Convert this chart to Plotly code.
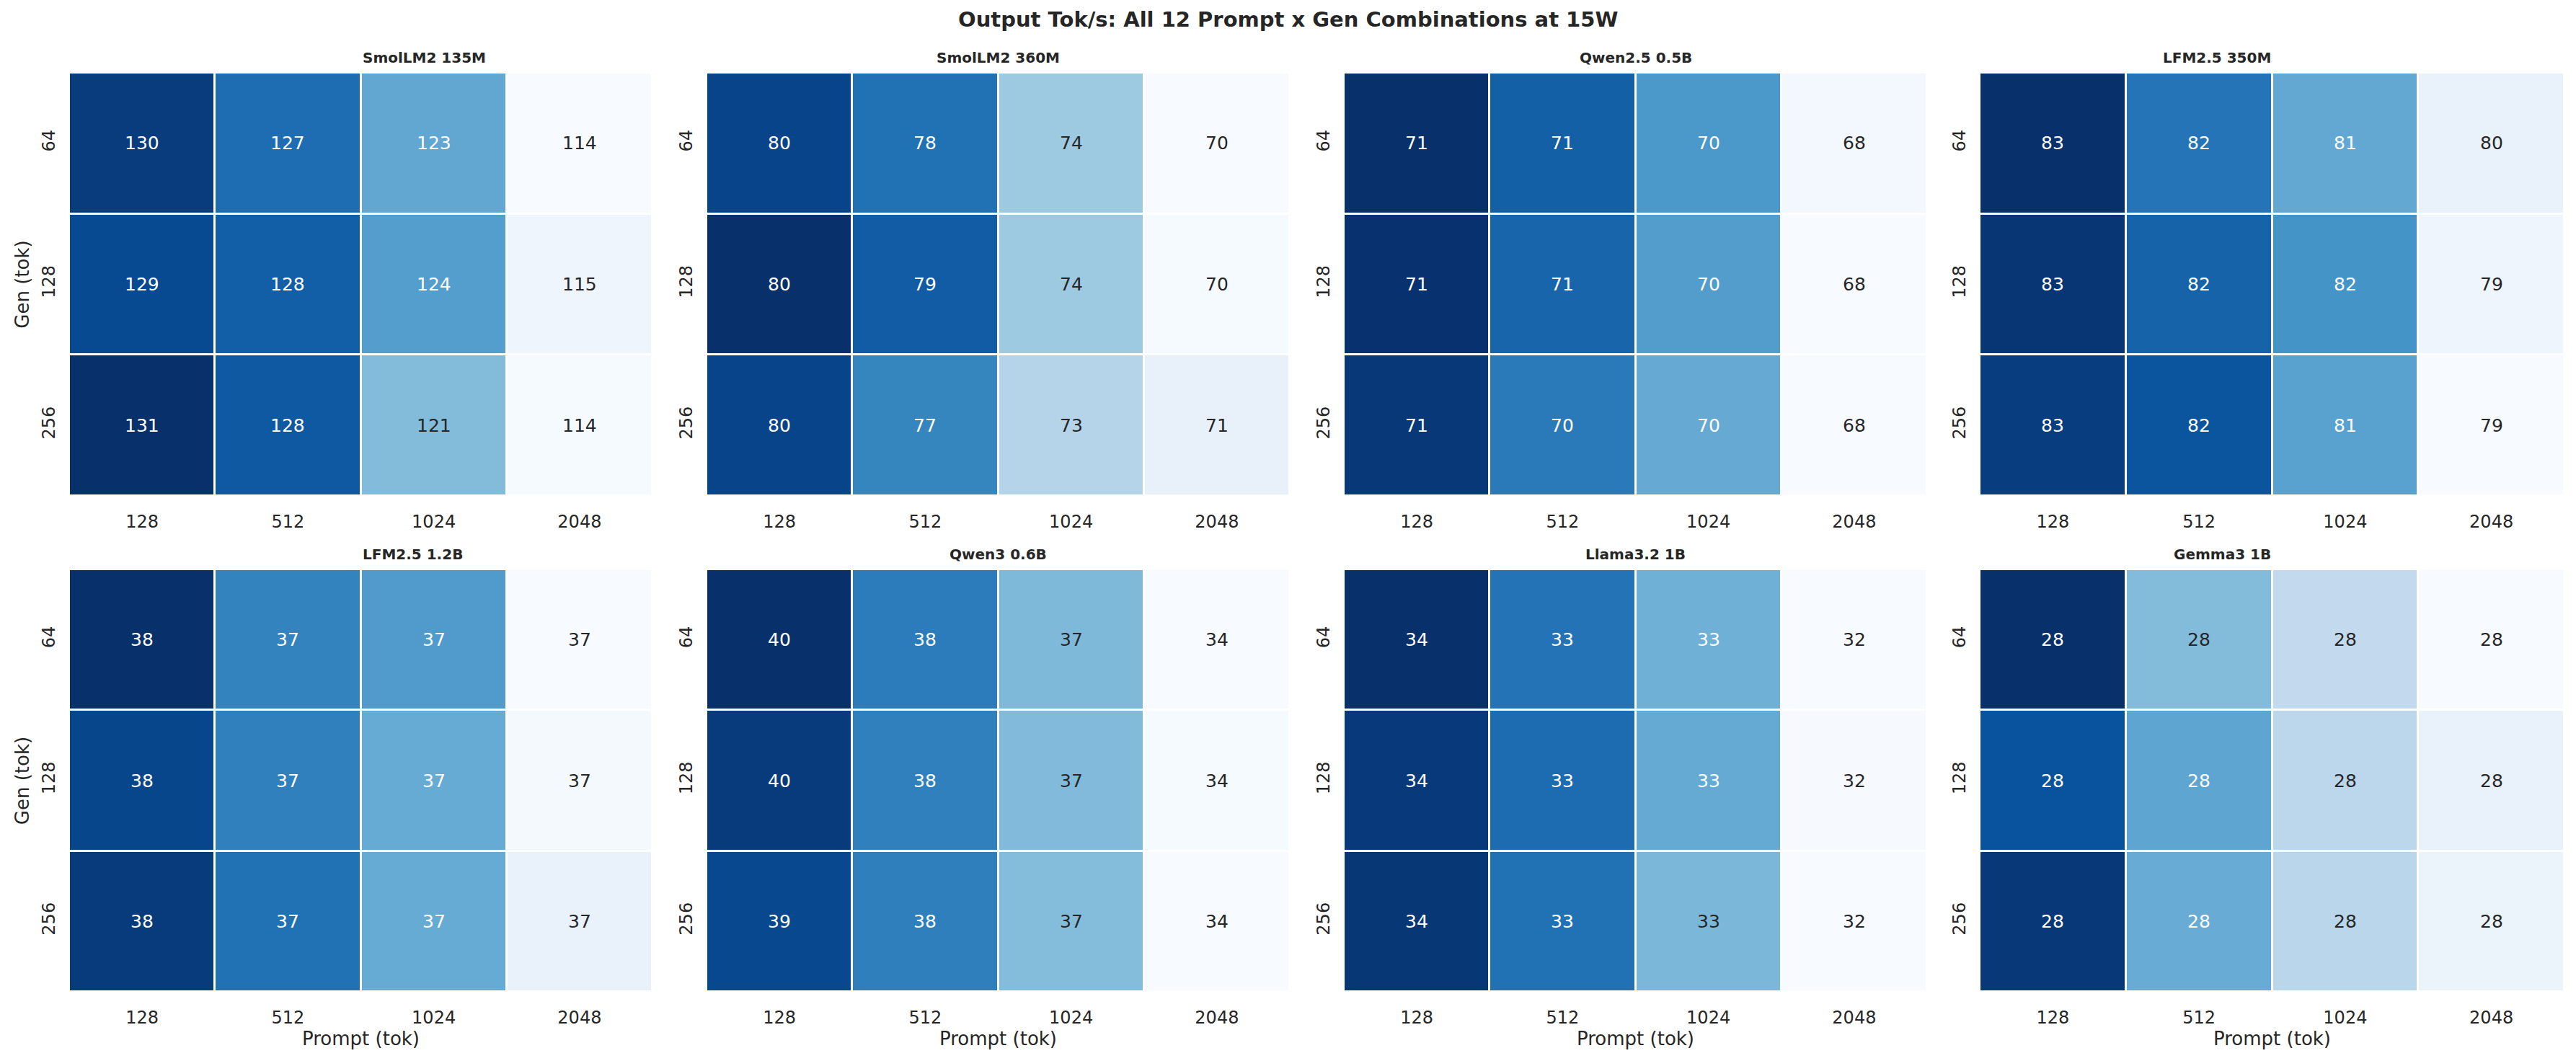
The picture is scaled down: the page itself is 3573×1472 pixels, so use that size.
import plotly.graph_objects as go

# ---------------- data ----------------
title_text = "Output Tok/s: All 12 Prompt x Gen Combinations at 15W"
prompt_labels = ["128", "512", "1024", "2048"]
gen_labels = ["64", "128", "256"]
models = ["SmolLM2 135M", "SmolLM2 360M", "Qwen2.5 0.5B", "LFM2.5 350M",
          "LFM2.5 1.2B", "Qwen3 0.6B", "Llama3.2 1B", "Gemma3 1B"]

smollm2_135m = [[130.2, 127.0, 122.9, 113.8],
                [129.3, 127.9, 123.6, 114.6],
                [131.0, 128.3, 121.4, 114.0]]
smollm2_360m = [[79.6, 77.75, 73.8, 69.8],
                [80.4, 78.6, 73.8, 69.9],
                [79.6, 76.95, 73.0, 70.6]]
qwen25_05b = [[71.28, 70.67, 69.93, 68.0],
              [71.25, 70.6, 69.86, 67.93],
              [71.18, 70.33, 69.66, 67.93]]
lfm25_350m = [[82.9, 81.96, 81.2, 79.56],
              [82.83, 82.2, 81.52, 79.47],
              [82.72, 82.4, 81.3, 79.3]]
lfm25_12b = [[37.62, 37.39, 37.32, 36.9],
             [37.56, 37.4, 37.27, 36.91],
             [37.59, 37.44, 37.27, 36.95]]
qwen3_06b = [[39.88, 38.2, 36.7, 34.1],
             [39.65, 38.1, 36.68, 34.16],
             [39.36, 38.12, 36.64, 34.1]]
llama32_1b = [[33.71, 33.32, 32.94, 32.2],
              [33.65, 33.36, 32.985, 32.21],
              [33.67, 33.33, 32.895, 32.2]]
gemma3_1b = [[28.3, 28.076, 28.004, 27.9],
             [28.248, 28.116, 28.012, 27.928],
             [28.288, 28.104, 28.016, 27.924]]

all_values = [smollm2_135m, smollm2_360m, qwen25_05b, lfm25_350m,
              lfm25_12b, qwen3_06b, llama32_1b, gemma3_1b]

# ---------------- style ----------------
W, H = 3573, 1472
FONT = "DejaVu Sans"
DARK = "#262626"
blues = ["#f7fbff", "#deebf7", "#c6dbef", "#9ecae1", "#6baed6",
         "#4292c6", "#2171b5", "#08519c", "#08306b"]
colorscale = [[i / 8, c] for i, c in enumerate(blues)]


def hex2rgb(h):
    h = h.lstrip("#")
    return [int(h[i:i + 2], 16) / 255 for i in (0, 2, 4)]


def cmap(t):
    t = min(max(t, 0.0), 1.0)
    pos = t * 8
    i = min(int(pos), 7)
    f = pos - i
    a, b = hex2rgb(blues[i]), hex2rgb(blues[i + 1])
    return [a[k] + (b[k] - a[k]) * f for k in range(3)]


def luminance(rgb):
    lin = [c / 12.92 if c <= 0.03928 else ((c + 0.055) / 1.055) ** 2.4 for c in rgb]
    return 0.2126 * lin[0] + 0.7152 * lin[1] + 0.0722 * lin[2]


# panel boxes in pixels (left, right, top, bottom)
col_px = [(96, 905), (980, 1789), (1864, 2673), (2746, 3557)]
row_px = [(101, 688), (790, 1376)]

fig = go.Figure()
annotations = []
layout_axes = {}

for idx, (name, vals) in enumerate(zip(models, all_values)):
    r, c = divmod(idx, 4)
    n = idx + 1
    xa = "x" if n == 1 else f"x{n}"
    ya = "y" if n == 1 else f"y{n}"
    xk = "xaxis" if n == 1 else f"xaxis{n}"
    yk = "yaxis" if n == 1 else f"yaxis{n}"
    x0, x1 = col_px[c]
    t0, t1 = row_px[r]

    fig.add_trace(go.Heatmap(
        z=vals, x=prompt_labels, y=gen_labels, xaxis=xa, yaxis=ya,
        colorscale=colorscale, showscale=False, xgap=3, ygap=3,
        hoverinfo="skip"))

    layout_axes[xk] = dict(
        domain=[x0 / W, x1 / W], anchor=ya, type="category",
        showgrid=False, zeroline=False, showline=False, ticks="",
        tickfont=dict(family=FONT, size=24, color=DARK),
        ticklabelstandoff=19,
        title=dict(text="Prompt (tok)" if r == 1 else "",
                   font=dict(family=FONT, size=26, color=DARK), standoff=6))
    layout_axes[yk] = dict(
        domain=[1 - t1 / H, 1 - t0 / H], anchor=xa, type="category",
        autorange="reversed", showgrid=False, zeroline=False, showline=False,
        ticks="", tickangle=-90,
        tickfont=dict(family=FONT, size=24, color=DARK),
        ticklabelstandoff=14,
        title=dict(text="Gen (tok)" if c == 0 else "",
                   font=dict(family=FONT, size=26, color=DARK), standoff=6))

    flat = [v for row in vals for v in row]
    vmin, vmax = min(flat), max(flat)
    for i in range(len(gen_labels)):
        for j in range(len(prompt_labels)):
            v = vals[i][j]
            t = (v - vmin) / (vmax - vmin) if vmax > vmin else 0.5
            col = DARK if luminance(cmap(t)) > 0.408 else "white"
            # category index positions (j-th prompt, i-th gen)
            annotations.append(dict(
                x=j, y=i, xref=xa, yref=ya, text=f"{v:.0f}",
                showarrow=False,
                font=dict(family=FONT, size=25, color=col)))

    annotations.append(dict(
        x=(x0 + x1) / 2 / W, y=1 - (t0 - 21) / H, xref="paper", yref="paper",
        text=f"<b>{name}</b>", showarrow=False, yanchor="middle",
        font=dict(family=FONT, size=20, color=DARK)))

annotations.append(dict(
    x=0.5, y=1 - 27 / H, xref="paper", yref="paper",
    text=f"<b>{title_text}</b>", showarrow=False, yanchor="middle",
    font=dict(family=FONT, size=29, color=DARK)))

fig.update_layout(
    width=W, height=H, margin=dict(l=0, r=0, t=0, b=0),
    paper_bgcolor="white", plot_bgcolor="white",
    annotations=annotations, showlegend=False, **layout_axes)

fig.write_html("out.html")
